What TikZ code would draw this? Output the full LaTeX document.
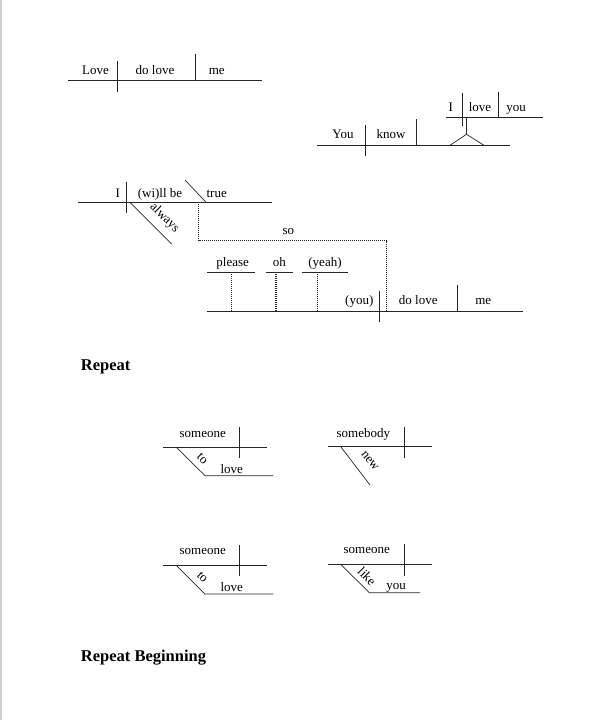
\documentclass[tikz,border=0pt]{standalone}
\usepackage{fontspec}
\setmainfont{Liberation Serif}
\begin{document}
\begin{tikzpicture}[x=1pt,y=-1pt,
  wd/.style={font=\fontsize{13}{15}\selectfont, inner sep=0pt, anchor=base},
  rw/.style={font=\fontsize{13}{15}\selectfont, inner sep=0pt, anchor=center},
  hd/.style={font=\fontsize{16.5}{19}\selectfont\bfseries, inner sep=0pt, anchor=base west},
  ln/.style={draw=black!85, line width=0.7pt},
  dl/.style={draw=black!85, line width=1.2pt, dash pattern=on 1pt off 1pt}]
\useasboundingbox (0,0) rectangle (612,720);
\fill[black!18] (0,0) rectangle (1.5,720);

% Diagram 1
\draw[ln] (68,80) -- (262,80);
\draw[ln] (117,61) -- (117,92);
\draw[ln] (195,54) -- (195,80);
\node[wd] (a1) at (95.5,74) {Love};
\node[wd] (a2) at (155,74) {do love};
\node[wd] (a3) at (216.7,74) {me};

% Diagram 2
\draw[ln] (317,145.3) -- (510,145.3);
\draw[ln] (365.3,125) -- (365.3,156);
\draw[ln] (416,119.3) -- (416,145.3);
\draw[ln] (450,145.3) -- (466.5,134.3) -- (484,145.3);
\draw[ln] (466.5,134.3) -- (466.5,117.3);
\draw[ln] (446,117.3) -- (543,117.3);
\draw[ln] (462.7,93.3) -- (462.7,125.7);
\draw[ln] (498.7,91.7) -- (498.7,117.3);
\node[wd] (b1) at (343,138.5) {You};
\node[wd] (b2) at (391,138.5) {know};
\node[wd] (b3) at (450.7,111) {I};
\node[wd] (b4) at (480,111) {love};
\node[wd] (b5) at (516,111) {you};

% Diagram 3
\draw[ln] (78,202.3) -- (271.7,202.3);
\draw[ln] (126,181.7) -- (126,213.3);
\draw[ln] (185,180) -- (206,202.3);
\draw[ln] (130,202.3) -- (171.7,244);
\node[rw, rotate=-45] (c4) at (164.5,218) {always};
\node[wd] (c1) at (117.7,197) {I};
\node[wd] (c2) at (160,197) {(wi)ll be};
\node[wd] (c3) at (216.7,197) {true};
\draw[dl] (198.7,202.3) -- (198.7,240.7) -- (386.7,240.7) -- (386.7,311);
\node[wd] (c5) at (288.3,234.5) {so};

% Diagram 4
\draw[ln] (206.7,311) -- (523.3,311);
\draw[ln] (379.3,290.7) -- (379.3,321.7);
\draw[ln] (457.7,285) -- (457.7,311);
\draw[ln] (207.3,272.3) -- (255,272.3);
\draw[dl] (231.7,272.3) -- (231.7,311);
\draw[ln] (265.7,272.3) -- (292.7,272.3);
\draw[dl] (276,272.3) -- (276,311);
\draw[ln] (302.3,272.3) -- (348.3,272.3);
\draw[dl] (317.3,272.3) -- (317.3,311);
\node[wd] (d1) at (232.7,266.7) {please};
\node[wd] (d2) at (279.3,266.7) {oh};
\node[wd] (d3) at (325,266.7) {(yeah)};
\node[wd] (d4) at (359.3,304) {(you)};
\node[wd] (d5) at (418.3,304) {do love};
\node[wd] (d6) at (483.3,304) {me};

% Headings
\node[hd] (h1) at (80.7,370.7) {Repeat};
\node[hd] (h2) at (80.7,661.7) {Repeat Beginning};

% Diagram 5
\draw[ln] (163.3,447) -- (267.3,447);
\draw[ln] (239.3,426.7) -- (239.3,458.3);
\draw[ln] (176,447) -- (205,475.7) -- (273.3,475.7);
\node[wd] (e1) at (202.7,437) {someone};
\node[rw, rotate=-45] (e2) at (202.5,459) {to};
\node[wd] (e3) at (231.7,473.5) {love};

% Diagram 6
\draw[ln] (328.3,446.7) -- (431.7,446.7);
\draw[ln] (404,426.7) -- (404,458.3);
\draw[ln] (340.7,446.7) -- (370,485);
\node[wd] (f1) at (363.3,437) {somebody};
\node[rw, rotate=-52] (f2) at (369.8,460.7) {new};

% Diagram 7
\draw[ln] (163.3,565) -- (267.3,565);
\draw[ln] (239.3,545) -- (239.3,575.7);
\draw[ln] (176,565) -- (205,594) -- (273.3,594);
\node[wd] (g1) at (202.7,554.5) {someone};
\node[rw, rotate=-45] (g2) at (202.5,577.3) {to};
\node[wd] (g3) at (231.7,591) {love};

% Diagram 8
\draw[ln] (328.3,564.3) -- (431.7,564.3);
\draw[ln] (404,544) -- (404,575.7);
\draw[ln] (340.7,564.3) -- (369.3,592.7) -- (420,592.7);
\node[wd] (k1) at (366.7,553.5) {someone};
\node[rw, rotate=-45] (k2) at (367,576.3) {like};
\node[wd] (k3) at (396,589.5) {you};
\end{tikzpicture}
\end{document}
